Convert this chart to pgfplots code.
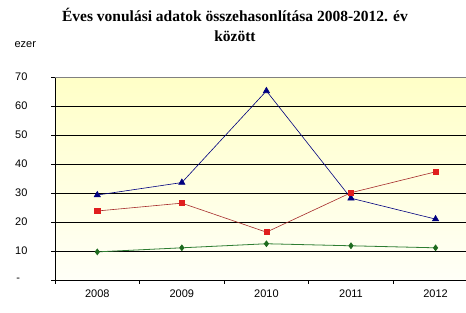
\documentclass[border=0pt]{standalone}
\usepackage{pgfplots}
\pgfplotsset{compat=1.18}
\usepackage{fontspec}
\setmainfont{Liberation Sans}
\newfontfamily\titlefont{Liberation Serif}
\definecolor{bluel}{HTML}{000080}
\definecolor{redl}{HTML}{A52A2A}
\definecolor{redm}{HTML}{E01E1E}
\definecolor{greenl}{HTML}{2E7D32}
\definecolor{greenm}{HTML}{1E6B1E}
\begin{document}
\begin{tikzpicture}[x=1pt,y=1pt]
\path[use as bounding box] (0,0) rectangle (466,313);
\node[font=\titlefont\bfseries\fontsize{15.5}{20}\selectfont, align=center] at (235,288) {Éves vonulási adatok összehasonlítása 2008-2012. év\\ között};
\node[font=\fontsize{11}{12}\selectfont, anchor=west] at (11,268) {ezer};
\begin{axis}[
  at={(55pt,33pt)}, anchor=south west,
  scale only axis, width=411pt, height=203pt,
  xmin=-0.5, xmax=4.36, ymin=0, ymax=70,
  axis lines*=left,
  axis line style={black, line width=0.7pt},
  axis background/.style={shade, top color=yellow!22, bottom color=yellow!3},
  ytick={0,10,...,70},
  yticklabels={\makebox[11pt][l]{-},10,20,30,40,50,60,70},
  yticklabel style={anchor=east, xshift=-20pt},
  xtick={-0.5,0.5,1.5,2.5,3.5},
  xticklabels={},
  extra x ticks={0,1,2,3,4},
  extra x tick labels={2008,2009,2010,2011,2012},
  extra x tick style={major tick length=0pt, xticklabel style={yshift=-6pt}},
  tick align=outside,
  major tick length=4pt,
  tick style={black, line width=0.7pt},
  ymajorgrids,
  major grid style={black, line width=0.7pt},
  ticklabel style={font=\fontsize{11}{12}\selectfont},
  /pgf/number format/assume math mode=true,
  clip=false,
]
\draw[color=gray, line width=0.9pt] (axis cs:-0.5,70) -- (axis cs:4.36,70);
\addplot[bluel, line width=0.6pt, mark=triangle*, mark size=3.6pt, mark options={fill=bluel, draw=bluel}] coordinates {
(0,29.3) (1,33.6) (2,65.2) (3,28.2) (4,21.0)};
\addplot[redl, line width=0.6pt, mark=square*, mark size=2.6pt, mark options={fill=redm, draw=redm}] coordinates {
(0,23.8) (1,26.5) (2,16.5) (3,30.1) (4,37.3)};
\addplot[greenl, line width=0.8pt, mark=diamond*, mark size=2.8pt, mark options={fill=greenm, draw=greenm}] coordinates {
(0,9.7) (1,11.1) (2,12.5) (3,11.8) (4,11.1)};
\end{axis}
\end{tikzpicture}
\end{document}
